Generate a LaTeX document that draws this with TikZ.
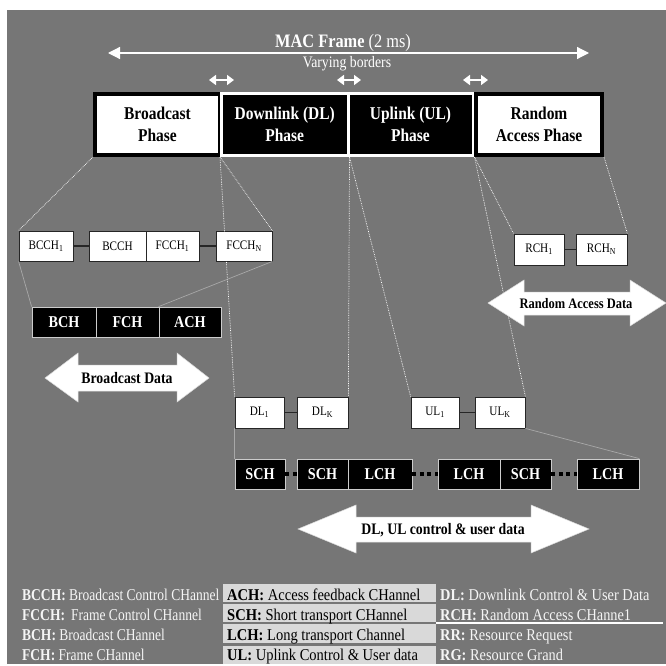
\documentclass[tikz,border=0pt]{standalone}
\usepackage{fontspec}
\setmainfont{Liberation Serif}[FakeStretch=0.86]
\newfontfamily\legleft{Liberation Serif}[FakeStretch=0.82]
\newfontfamily\legmid{Liberation Serif}[FakeStretch=0.88]
\newfontfamily\legright{Liberation Serif}[FakeStretch=0.87]
\usetikzlibrary{arrows.meta}
\definecolor{bggray}{RGB}{118,118,118}
\definecolor{cellgray}{RGB}{217,217,217}
\definecolor{linegray}{RGB}{168,168,168}
\definecolor{txtwhite}{RGB}{245,245,245}
\begin{document}
\begin{tikzpicture}[x=1pt,y=-1pt,
  phasew/.style={draw=black, fill=white, line width=4pt, inner sep=0pt, align=center, text=black, font=\fontsize{18}{22}\selectfont\bfseries},
  phaseb/.style={draw=white, fill=black, line width=3pt, inner sep=0pt, align=center, text=white, font=\fontsize{18}{22}\selectfont\bfseries},
  subbox/.style={draw=black!85, fill=white, line width=0.8pt, inner sep=0pt, minimum height=30pt, font=\fontsize{13}{15}\selectfont},
  chbox/.style={draw=black!20, fill=black, line width=0.8pt, inner sep=0pt, minimum height=30pt, text=white, font=\fontsize{16.5}{19}\selectfont\bfseries},
  link/.style={draw=black!85, line width=1.5pt},
  dotlink/.style={draw=black, line width=4pt, dash pattern=on 4pt off 3.5pt},
  guide/.style={draw=white, line width=0.7pt, densely dotted},
  guide2/.style={draw=linegray, line width=0.7pt},
  dblarrow/.style={draw=white, line width=1.2pt, {Triangle[length=12pt,width=12pt]}-{Triangle[length=12pt,width=12pt]}},
  smallarrow/.style={draw=white, line width=1.6pt, {Triangle[length=7pt,width=10pt]}-{Triangle[length=7pt,width=10pt]}},
  blockarrow/.style={fill=white, draw=white!85!black, line width=0.5pt},
  legl/.style={anchor=base west, inner sep=0pt, text=txtwhite, font=\fontsize{16.5}{19}\legleft},
  legm/.style={anchor=base west, inner sep=0pt, text=black, font=\fontsize{16.5}{19}\legmid},
  legr/.style={anchor=base west, inner sep=0pt, text=txtwhite, font=\fontsize{16.5}{19}\legright}
]
\useasboundingbox (0,0) rectangle (666,666);
\fill[white] (0,0) rectangle (666,666);
\fill[bggray] (7,10) rectangle (666,664);

% --- MAC frame header
\node[anchor=base, inner sep=0pt, text=white, font=\fontsize{19}{22}\selectfont] (mac) at (343,48) {\textbf{MAC Frame} (2 ms)};
\coordinate (macL) at (108,53);
\coordinate (macR) at (589,53);
\draw[dblarrow] (macL) -- (macR);
\node[anchor=base, inner sep=0pt, text=white, font=\fontsize{16}{19}\selectfont] (vary) at (347,68) {Varying borders};
\coordinate (v1a) at (209,80); \coordinate (v1b) at (234,80);
\coordinate (v2a) at (337,80); \coordinate (v2b) at (361,80);
\coordinate (v3a) at (463,80); \coordinate (v3b) at (488,80);
\draw[smallarrow] (v1a) -- (v1b);
\draw[smallarrow] (v2a) -- (v2b);
\draw[smallarrow] (v3a) -- (v3b);

% --- phases
\node[phasew, minimum width=125pt, minimum height=61pt] (bp) at (157.5,124.5) {Broadcast\\Phase};
\node[phasew, minimum width=126pt, minimum height=61pt] (rap) at (539,124.5) {Random\\Access Phase};
\node[phaseb, minimum width=126.5pt, minimum height=62pt] (dlp) at (284.75,124.5) {Downlink (DL)\\Phase};
\node[phaseb, minimum width=125pt, minimum height=62pt] (ulp) at (410.5,124.5) {Uplink (UL)\\Phase};
\draw[black, line width=4pt] (476,92) -- (476,157);

% --- sub boxes
\node[subbox, minimum width=54pt] (bcch1) at (46,246) {BCCH\textsubscript{1}};
\node[subbox, minimum width=57pt] (bcch) at (117.5,246) {BCCH};
\node[subbox, minimum width=53pt] (fcch1) at (172.5,246) {FCCH\textsubscript{1}};
\node[subbox, minimum width=56pt] (fcchn) at (244,246) {FCCH\textsubscript{N}};
\node[subbox, minimum width=50pt, minimum height=31pt] (rch1) at (539,249.5) {RCH\textsubscript{1}};
\node[subbox, minimum width=51pt, minimum height=31pt] (rchn) at (601.5,249.5) {RCH\textsubscript{N}};
\node[subbox, minimum width=49pt, minimum height=31pt] (dl1) at (259.5,412.5) {DL\textsubscript{1}};
\node[subbox, minimum width=51pt, minimum height=31pt] (dlk) at (322.5,412.5) {DL\textsubscript{K}};
\node[subbox, minimum width=48pt, minimum height=31pt] (ul1) at (435,412.5) {UL\textsubscript{1}};
\node[subbox, minimum width=50pt, minimum height=31pt] (ulk) at (500,412.5) {UL\textsubscript{K}};

\draw[link] (bcch1.east) -- (bcch.west);
\draw[link] (fcch1.east) -- (fcchn.west);
\draw[link] (rch1.east) -- (rchn.west);
\draw[link] (dl1.east) -- (dlk.west);
\draw[link] (ul1.east) -- (ulk.west);

% --- channel boxes
\node[chbox, minimum width=64pt] (bch) at (64,322) {BCH};
\node[chbox, minimum width=63pt] (fch) at (127.5,322) {FCH};
\node[chbox, minimum width=62pt] (ach) at (190,322) {ACH};
\node[chbox, minimum width=50pt] (sch1) at (260,474) {SCH};
\node[chbox, minimum width=51pt] (sch2) at (322.5,474) {SCH};
\node[chbox, minimum width=64pt] (lch1) at (380,474) {LCH};
\node[chbox, minimum width=62pt] (lch2) at (469,474) {LCH};
\node[chbox, minimum width=51pt] (sch3) at (525.5,474) {SCH};
\node[chbox, minimum width=62pt] (lch3) at (608,474) {LCH};

\draw[dotlink] (sch1.east) -- (sch2.west);
\draw[dotlink] (lch1.east) -- (lch2.west);
\draw[dotlink] (sch3.east) -- (lch3.west);

% --- guide lines
\draw[guide] (bp.south west) -- (bcch1.north west);
\draw[guide] (dlp.south west) -- (fcchn.north east);
\draw[guide] (dlp.south west) -- (dl1.north west);
\draw[guide] (dlp.south east) -- (dlk.north east);
\draw[guide] (dlp.south east) -- (ul1.north west);
\draw[guide] (ulp.south east) -- (ulk.north east);
\draw[guide] (ulp.south east) -- (rch1.north west);
\draw[guide] (rap.south east) -- (rchn.north east);

\draw[guide2] (bcch1.south west) -- (bch.north west);
\draw[guide2] (fcchn.south east) -- (ach.north west);
\draw[guide2] (dl1.south west) -- (sch1.north west);
\draw[guide2] (ulk.south east) -- (lch3.north east);

% --- block arrows
\filldraw[blockarrow] (45,378) -- (78,353) -- (78,365) -- (177,365) -- (177,353) -- (209,378) -- (177,402) -- (177,391) -- (78,391) -- (78,402) -- cycle;
\node[anchor=base, inner sep=0pt, font=\fontsize{16}{19}\selectfont\bfseries] (bdata) at (127,383) {Broadcast Data};

\filldraw[blockarrow] (488,303) -- (524,280) -- (524,292) -- (630,292) -- (630,280) -- (666,303) -- (630,326) -- (630,315) -- (524,315) -- (524,326) -- cycle;
\node[anchor=base, inner sep=0pt, font=\fontsize{14.5}{17}\selectfont\bfseries] (radata) at (576,308) {Random Access Data};

\filldraw[blockarrow] (298,529) -- (356,505) -- (356,517) -- (531,517) -- (531,505) -- (589,529) -- (531,553) -- (531,542) -- (356,542) -- (356,553) -- cycle;
\node[anchor=base, inner sep=0pt, font=\fontsize{16}{19}\selectfont\bfseries] (dudata) at (443,534) {DL, UL control \& user data};

% --- legend
\fill[cellgray] (223,584) rectangle (436,602);
\fill[cellgray] (223,604) rectangle (436,622);
\fill[cellgray] (223,624) rectangle (436,643);
\fill[cellgray] (223,645.5) rectangle (436,664);
\draw[white, line width=1.5pt] (436,623) -- (663,623);

\node[legl] (l1) at (22,600) {\textbf{BCCH:} Broadcast Control CHannel};
\node[legl] (l2) at (22,620) {\textbf{FCCH:}\hspace{6pt}Frame Control CHannel};
\node[legl] (l3) at (22,640) {\textbf{BCH:} Broadcast CHannel};
\node[legl] (l4) at (22,660.5) {\textbf{FCH:} Frame CHannel};
\node[legm] (m1) at (227,600) {\textbf{ACH:} Access feedback CHannel};
\node[legm] (m2) at (227,620) {\textbf{SCH:} Short transport CHannel};
\node[legm] (m3) at (227,640) {\textbf{LCH:} Long transport Channel};
\node[legm] (m4) at (227,660.5) {\textbf{UL:} Uplink Control \& User data};
\node[legr] (r1) at (440,600) {\textbf{DL:} Downlink Control \& User Data};
\node[legr] (r2) at (440,620) {\textbf{RCH:} Random Access CHanne1};
\node[legr] (r3) at (440,640) {\textbf{RR:} Resource Request};
\node[legr] (r4) at (440,660.5) {\textbf{RG:} Resource Grand};
\end{tikzpicture}
\end{document}
